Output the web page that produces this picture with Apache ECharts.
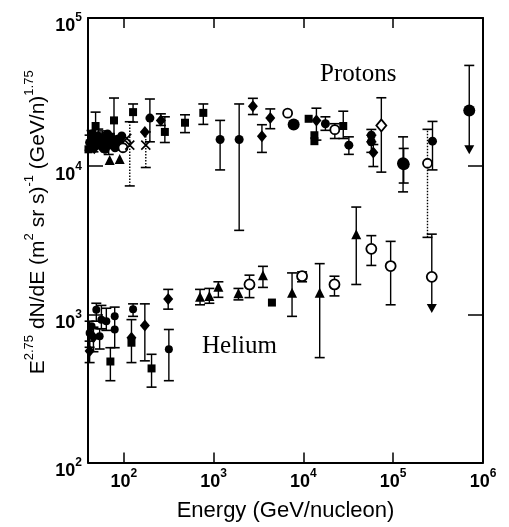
<!DOCTYPE html>
<html>
<head>
<meta charset="utf-8">
<script src="https://cdn.jsdelivr.net/npm/echarts@6/dist/echarts.min.js"></script>
<style>
html, body { margin: 0; padding: 0; background: #fff; }
#chart { width: 509px; height: 527px; }
</style>
</head>
<body>
<div id="chart"></div>
<script>
// --- data: [energy GeV/n, E^2.75 dN/dE, low, high] (null = no bar) ---
// protons
var pSquare = [
	[40.5, 13000, null, null], [43.8, 15380, 13500, 17400], [48.6, 18670, 14600, 23170],
	[51, 14000, null, null], [58, 15600, 13800, 17300], [64, 15000, 13200, 16800],
	[72, 15800, null, null], [77.9, 20370, 14700, 28840], [88, 13500, null, null],
	[127, 23170, 19860, 26300], [287, 17030, 14450, 21540], [481, 19650, 16850, 22230],
	[769, 22900, 19150, 26300], [11450, 20890, null, null], [13270, 16180, null, null],
	[13270, 14750, null, null], [27800, 18670, 15380, 23500]
];
var pCircle = [
	[41.7, 14450, 12800, 16200], [44, 16500, null, null], [48.6, 15140, null, null],
	[52, 16000, 14200, 17800], [53.9, 14750, null, null], [60, 14450, null, null],
	[62, 13000, null, null], [66, 16500, null, null], [68, 13870, 12000, 15600],
	[71, 14000, null, null], [80, 13300, null, null], [85, 15200, null, null],
	[90, 14600, null, null], [95, 16000, null, null], [195.5, 21120, 14610, 28400],
	[1183, 15140, 9440, 20370], [1928, 15140, 3690, 26300], [17600, 19350, 17460, 21540],
	[32100, 13870, 12020, 15780], [57100, 16180, 14610, 17700], [57100, 14610, 12400, 16180],
	[274000, 14750, 9440, 20050]
];
var pBigCircle = [
	[7800, 19150, null, null], [128800, 10470, 6710, 15780], [131000, 10300, 7700, 13180]
];
var pDiamond = [
	[46, 14000, 12500, 15700], [47, 13200, null, null], [56.4, 13500, null, null],
	[75, 14750, null, null], [171.8, 17030, null, null], [259, 20370, 18840, 22560],
	[2742, 25400, 22320, 28710], [3456, 15920, 12390, 19050], [4280, 21120, 17910, 24350],
	[13970, 20370, 15000, 24630], [60100, 12390, 9950, 14000]
];
var pTriangle = [[69.8, 11020, null, null], [90.2, 11200, null, null]];
var pOpenCircle = [[98, 13320, null, null], [6680, 22800, null, null], [22400, 17650, 15380, 19350]];
var pOpenCircleB = [[241000, 10470, 3310, 17730]];
var pOpenDiamond = [[73800, 18840, 9120, 28960]];
var pCross = [[108, 15400, null, null], [116.7, 13870, 7360, 19950], [176, 13870, 9800, 17030]];
// upper limit: [energy, value, top, arrow tip]
var pLimit = [[703000, 23740, 47860, 12020]];

// helium
var hTriangle = [
	[707, 1318, 1161, 1475], [898, 1333, 1189, 1497], [1132, 1537, 1304, 1660],
	[1893, 1387, 1253, 1497], [3548, 1840, 1521, 2110], [7480, 1402, 970, 1905],
	[15200, 1402, 511, 2200], [38800, 3480, 1592, 5300]
];
var hOpenCircle = [
	[2512, 1592, 1298, 1840], [9670, 1810, 1660, 1935], [22200, 1592, 1333, 1810],
	[57100, 2770, 2140, 3400], [93700, 2120, 1161, 3110]
];
var hSquare = [[71, 481, 357, 596], [121.9, 644, null, null], [204, 432, 323, 538], [4467, 1202, null, null]];
var hDiamond = [
	[41.7, 567, 473, 660], [46, 700, 560, 820], [121.9, 695, 473, 922],
	[171.8, 841, 486, 1178], [312.6, 1272, 1085, 1475]
];
var hCircle = [
	[41.7, 750, 600, 900], [43.8, 832, null, null], [49.5, 1075, 900, 1189],
	[53.9, 713, 584, 800], [56.4, 922, 800, 1150], [64, 900, 780, 1100],
	[79.3, 970, 596, 1120], [79.3, 791, null, null], [127, 1085, 970, 1178],
	[318, 582, 357, 791]
];
var hLimit = [[269000, 1792, 3480, 1021]];

var xTicksMin = 40, xTicksMax = 1e6;
var yTicksMin = 100, yTicksMax = 1e5;

var FONT = 'Liberation Sans, Arial, sans-serif';
var ink = '#000';

// --- 误差棒 ---
function makeBars(rows, dashed) {
	var data = [];
	rows.forEach(function (r) {
		if (r[2] != null) data.push([r[0], r[2], r[3]]);
	});
	return {
		type: 'custom',
		data: data,
		z: 2,
		silent: true,
		encode: { x: 0, y: [1, 2] },
		renderItem: function (params, api) {
			var lo = api.coord([api.value(0), api.value(1)]);
			var hi = api.coord([api.value(0), api.value(2)]);
			var w = 5;
			var st = { stroke: ink, lineWidth: 1.4, lineDash: dashed ? [1.5, 1.5] : null };
			return {
				type: 'group',
				children: [
					{ type: 'line', shape: { x1: lo[0], y1: lo[1], x2: hi[0], y2: hi[1] }, style: st },
					{ type: 'line', shape: { x1: lo[0] - w, y1: lo[1], x2: lo[0] + w, y2: lo[1] }, style: { stroke: ink, lineWidth: 1.6 } },
					{ type: 'line', shape: { x1: hi[0] - w, y1: hi[1], x2: hi[0] + w, y2: hi[1] }, style: { stroke: ink, lineWidth: 1.6 } }
				]
			};
		}
	};
}

function makeLimit(rows) {
	return {
		type: 'custom',
		data: rows.map(function (r) { return [r[0], r[2], r[3]]; }),
		z: 2,
		silent: true,
		encode: { x: 0, y: [1, 2] },
		renderItem: function (params, api) {
			var top = api.coord([api.value(0), api.value(1)]);
			var tip = api.coord([api.value(0), api.value(2)]);
			var w = 5;
			return {
				type: 'group',
				children: [
					{ type: 'line', shape: { x1: top[0], y1: top[1], x2: tip[0], y2: tip[1] - 4 }, style: { stroke: ink, lineWidth: 1.4 } },
					{ type: 'line', shape: { x1: top[0] - w, y1: top[1], x2: top[0] + w, y2: top[1] }, style: { stroke: ink, lineWidth: 1.6 } },
					{ type: 'polygon', shape: { points: [[tip[0] - 5, tip[1] - 9], [tip[0] + 5, tip[1] - 9], [tip[0], tip[1]]] }, style: { fill: ink } }
				]
			};
		}
	};
}

function makePoints(rows, symbol, size, open) {
	return {
		type: 'scatter',
		data: rows.map(function (r) { return [r[0], r[1]]; }),
		symbol: symbol,
		symbolSize: size,
		z: 3,
		itemStyle: open
			? { color: '#fff', borderColor: ink, borderWidth: 1.8, opacity: 1 }
			: { color: ink, opacity: 1 }
	};
}

var crossPath = 'path://M0,0L10,10M10,0L0,10';

var series = [
	makeBars(pSquare), makeBars(pCircle), makeBars(pBigCircle), makeBars(pDiamond),
	makeBars(pOpenCircle), makeBars(pOpenCircleB, true), makeBars(pOpenDiamond), makeBars(pCross, true),
	makeBars(hTriangle), makeBars(hOpenCircle), makeBars(hSquare), makeBars(hDiamond), makeBars(hCircle),
	makeLimit(pLimit), makeLimit(hLimit),
	makePoints(pSquare, 'rect', 8), makePoints(pCircle, 'circle', 9), makePoints(pBigCircle, 'circle', 12),
	makePoints(pDiamond, 'diamond', [10, 12]), makePoints(pTriangle, 'triangle', 10),
	makePoints(pOpenCircle, 'circle', 9, true), makePoints(pOpenCircleB, 'circle', 9, true),
	makePoints(pOpenDiamond, 'diamond', [10, 12], true),
	{
		type: 'scatter', data: pCross.map(function (r) { return [r[0], r[1]]; }),
		symbol: crossPath, symbolSize: 9, z: 3,
		itemStyle: { color: 'none', borderColor: ink, borderWidth: 1.6, opacity: 1 }
	},
	makePoints(pLimit, 'circle', 12),
	makePoints(hTriangle, 'triangle', 10), makePoints(hOpenCircle, 'circle', 10, true),
	makePoints(hSquare, 'rect', 8), makePoints(hDiamond, 'diamond', [10, 12]),
	makePoints(hCircle, 'circle', 8), makePoints(hLimit, 'circle', 10, true)
];

function powLabel(v) {
	var p = Math.log10(v);
	if (Math.abs(p - Math.round(p)) > 1e-6) return '';
	return '{b|10}{s|' + Math.round(p) + '}';
}

function xAxisCfg(pos, showLabel) {
	return {
		type: 'log', logBase: 10, min: xTicksMin, max: xTicksMax, position: pos,
		axisLine: { show: true, onZero: false, lineStyle: { color: ink, width: 2 } },
		axisTick: { show: true, inside: true, length: 10, lineStyle: { color: ink, width: 1.5 } },
		minorTick: { show: false }, splitLine: { show: false },
		axisLabel: {
			show: showLabel, margin: 9, formatter: powLabel, color: ink,
			rich: {
				b: { fontFamily: FONT, fontSize: 18, fontWeight: 'bold', color: ink, lineHeight: 20 },
				s: { fontFamily: FONT, fontSize: 12, fontWeight: 'bold', color: ink, lineHeight: 14, padding: [0, 0, 15, 0] }
			}
		}
	};
}

function yAxisCfg(pos, showLabel) {
	return {
		type: 'log', logBase: 10, min: yTicksMin, max: yTicksMax, position: pos,
		axisLine: { show: true, onZero: false, lineStyle: { color: ink, width: 2 } },
		axisTick: { show: true, inside: true, length: 15, lineStyle: { color: ink, width: 1.5 } },
		minorTick: { show: false }, splitLine: { show: false },
		axisLabel: {
			show: showLabel, margin: 6, formatter: powLabel, color: ink,
			rich: {
				b: { fontFamily: FONT, fontSize: 18, fontWeight: 'bold', color: ink, lineHeight: 20, padding: [17, 0, 0, 0] },
				s: { fontFamily: FONT, fontSize: 12, fontWeight: 'bold', color: ink, lineHeight: 14 }
			}
		}
	};
}

var xBottom = xAxisCfg('bottom', true);
xBottom.name = 'Energy (GeV/nucleon)';
xBottom.nameLocation = 'middle';
xBottom.nameGap = 35;
xBottom.nameTextStyle = { fontFamily: FONT, fontSize: 22, color: ink };

var yLeft = yAxisCfg('left', true);
yLeft.name = '{b|E}{s|2.75}{b| dN/dE (m}{s|2}{b| sr s)}{s|-1}{b| (GeV/n)}{s|1.75}';
yLeft.nameLocation = 'middle';
yLeft.nameMoveOverlap = false;
yLeft.nameGap = 38;
yLeft.nameTextStyle = {
	fontFamily: FONT, fontSize: 21, color: ink, padding: [0, 0, 0, 36],
	rich: {
		b: { fontFamily: FONT, fontSize: 21, color: ink, lineHeight: 23 },
		s: { fontFamily: FONT, fontSize: 13, color: ink, lineHeight: 14, padding: [0, 0, 18, 0] }
	}
};

var myChart = echarts.init(document.getElementById('chart'));
myChart.setOption({
	animation: false,
	backgroundColor: '#fff',
	grid: { left: 88, right: 26, top: 18, bottom: 59 },
	xAxis: [xBottom, xAxisCfg('top', false)],
	yAxis: [yLeft, yAxisCfg('right', false)],
	graphic: [
		{ type: 'text', left: 320, top: 62, style: { text: 'Protons', fontFamily: 'Liberation Serif, Times New Roman, serif', fontSize: 25, fill: ink } },
		{ type: 'text', left: 202, top: 334, style: { text: 'Helium', fontFamily: 'Liberation Serif, Times New Roman, serif', fontSize: 25, fill: ink } }
	],
	series: series
});
</script>
</body>
</html>
